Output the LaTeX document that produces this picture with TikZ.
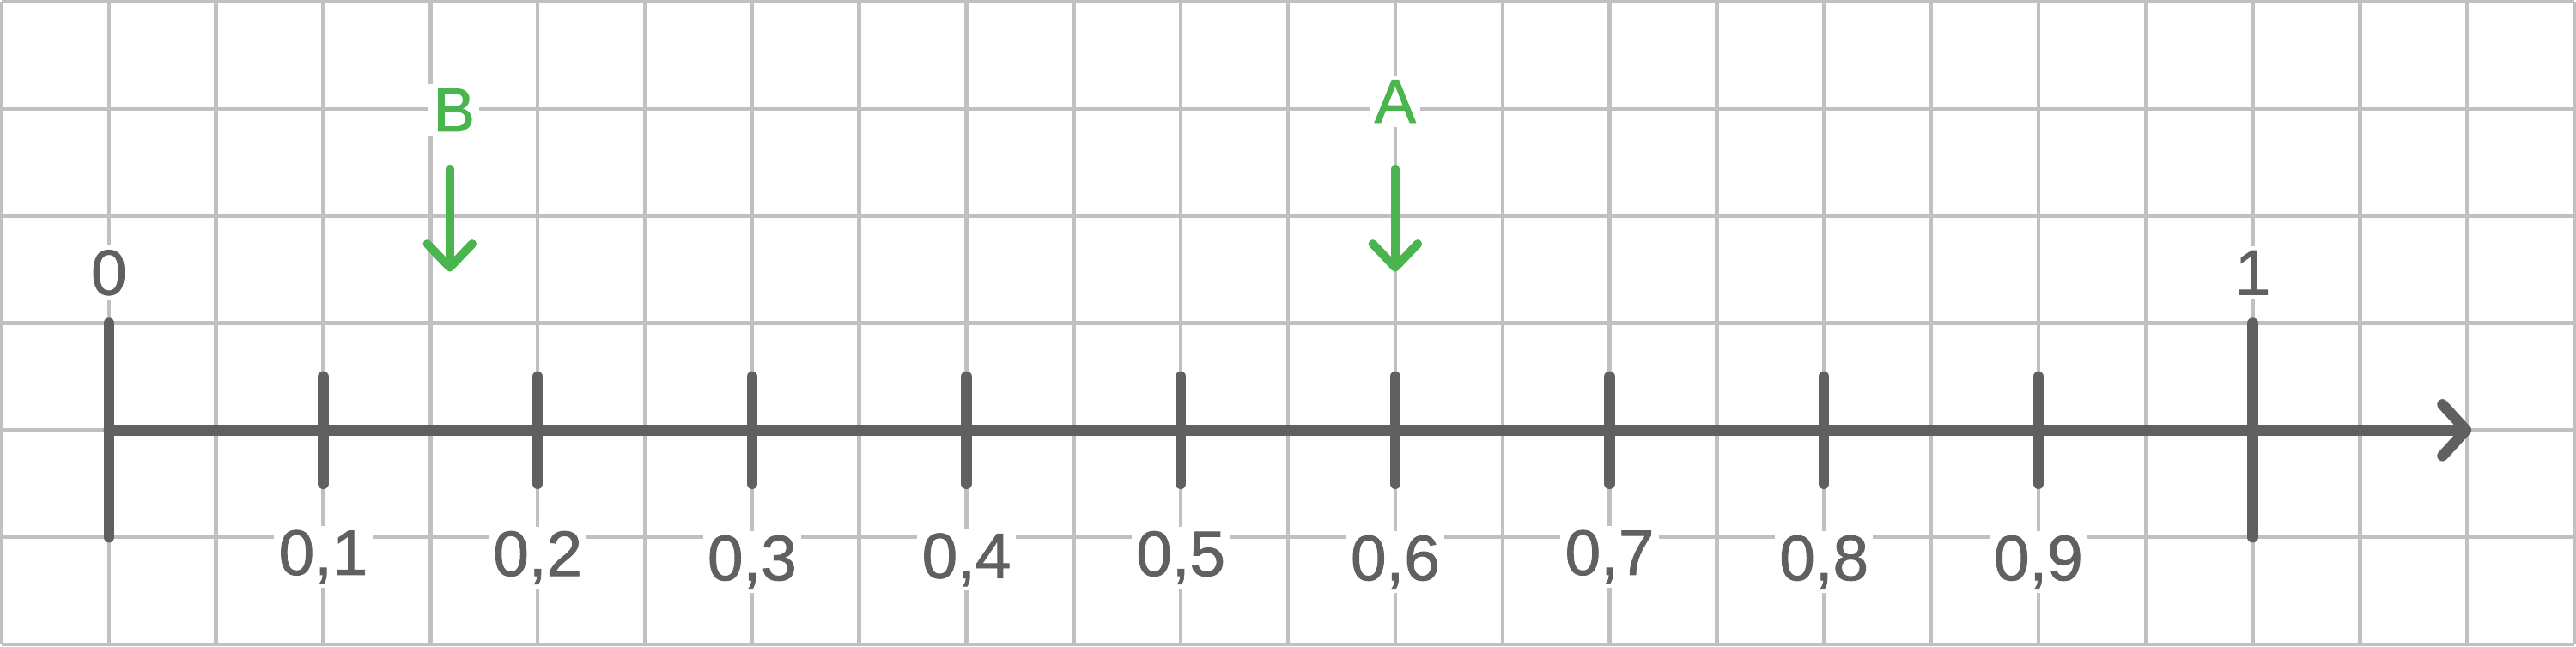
\documentclass[tikz,border=0pt]{standalone}
\usepackage{fontspec}
\setmainfont{Liberation Sans}
\newfontfamily\labelfont[FakeBold=1.2]{Liberation Sans}
\usetikzlibrary{arrows.meta}
\definecolor{axisgray}{HTML}{606060}
\definecolor{gridgray}{HTML}{C0C0C0}
\definecolor{markgreen}{HTML}{4AB44F}
\begin{document}
\begin{tikzpicture}[
		gridline/.style={gridgray,line width=0.035cm},
		axis/.style={axisgray,line width=0.1cm,line cap=round},
		pointer/.style={markgreen,line width=0.08cm,line cap=round,
			-{Straight Barb[length=0.22cm,width=0.42cm,round]}},
		num/.style={text=axisgray,fill=white,inner sep=1.2pt,font=\labelfont\fontsize{17}{20}\selectfont},
		letter/.style={text=markgreen,fill=white,inner sep=1.2pt,font=\labelfont\fontsize{16.5}{20}\selectfont}]
		\useasboundingbox(-0.016,-0.016)rectangle(24.016,6.016);
		\fill[white](-0.016,-0.016)rectangle(24.016,6.016);
		\draw[gridline](0,0)grid(24,6);
		% number line
		\path(1,2)coordinate(O)(23.04,2)coordinate(E)
			(1,1)coordinate(O1)(1,3)coordinate(O2)
			(21,1)coordinate(U1)(21,3)coordinate(U2);
		\draw[axis,-{Straight Barb[length=0.22cm,width=0.48cm,round]}](O)--(E);
		\draw[axis](O1)--(O2)(U1)--(U2);
		\foreach \i/\y in {1/0.82,2/0.81,3/0.77,4/0.79,5/0.81,6/0.77,7/0.82,8/0.77,9/0.77}{
			\path(2*\i+1,1.5)coordinate(t\i a)(2*\i+1,2.5)coordinate(t\i b);
			\draw[axis](t\i a)--(t\i b);
			\node[num](l\i)at(2*\i+1,\y){0,\i};
		}
		\node[num](n0)at(1,3.47){0};
		\node[num](n1)at(21,3.47){1};
		% points
		\node[letter](B)at(4.22,4.99){B};
		\node[letter](A)at(13,5.07){A};
		\path(4.18,4.44)coordinate(Bs)(4.18,3.48)coordinate(Be)
			(13,4.44)coordinate(As)(13,3.48)coordinate(Ae);
		\draw[pointer](Bs)--(Be);
		\draw[pointer](As)--(Ae);
	\end{tikzpicture}
\end{document}
